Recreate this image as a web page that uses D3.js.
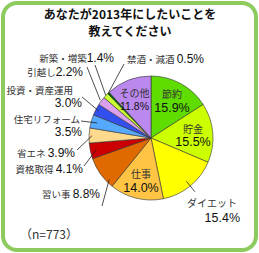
<!DOCTYPE html>
<html>
<head>
<meta charset="utf-8">
<script src="https://cdn.jsdelivr.net/npm/d3@7"></script>
<style>
  body { margin: 0; background: #fff; }
  svg { display: block; }
</style>
</head>
<body>
<svg id="chart"></svg>
<script>
// data
const categories = ["節約", "貯金", "ダイエット", "仕事", "習い事", "資格取得", "省エネ",
  "住宅リフォーム", "投資・資産運用", "引越し", "新築・増築", "禁酒・減酒", "その他"];
const values = [15.9, 15.5, 15.4, 14.0, 8.8, 4.1, 3.9, 3.5, 3.0, 2.2, 1.4, 0.5, 11.8];
const colors = ["#5fdc00", "#ccff00", "#ffff00", "#ffc444", "#e06a00", "#cc0000", "#ffd98c",
  "#55aaff", "#3350ee", "#dda0ee", "#ccff33", "#006600", "#bb88ee"];
const titleLines = ["あなたが2013年にしたいことを", "教えてください"];
const sampleNote = "（n=773）";

// label layout: inside labels (nameY/valY) or outside labels with leader line
const labelLayout = [
  {type: "in", x: 172, nameY: 98, valY: 112, vs: 12.5},
  {type: "in", x: 193, nameY: 133, valY: 146, vs: 12.5},
  {type: "in", x: 212, nameY: 207, valY: 222, vs: 12.5, valX: 240, valAnchor: "end", line: {t: 0.5, k: 0.9, k2: 1.12}},
  {type: "in", x: 141, nameY: 178, valY: 192, vs: 12.5},
  {type: "out", x: 100, y: 198, gap: " ", line: {t: 0.2, k: 0.95, x2: 102, y2: 206}},
  {type: "out", x: 83, y: 173, gap: " ", line: {t: 0.5, k: 0.9, x2: 84, y2: 166}},
  {type: "out", x: 75, y: 157, gap: " ", line: {t: 0.5, k: 0.95, x2: 77, y2: 150}},
  {type: "out2", x: 80, y: 123, valX: 82, valY: 136, line: {t: 0.5, k: 0.9, x2: 81, y2: 121}},
  {type: "out2", x: 73, y: 94, valX: 82, valY: 107, line: {t: 0.5, k: 0.95, x2: 82, y2: 97}},
  {type: "out", x: 83, y: 76, gap: "", line: {t: 0.5, k: 1.02, x2: 87, y2: 67}},
  {type: "out", x: 114, y: 62, gap: "", line: {t: 0.5, k: 1.0, x2: 95, y2: 65}},
  {type: "outL", x: 127, y: 63, gap: " ", line: {t: 0.5, k: 1.0, x2: 124, y2: 64}},
  {type: "in", x: 134.5, nameY: 97, valY: 110, vs: 10.5}
];

const W = 259, H = 253;
const CX = 151, CY = 138, R = 62;
const JP = "'Noto Sans CJK JP', sans-serif";
const NUM = "'Liberation Sans', Arial, sans-serif";

const svg = d3.select("#chart").attr("width", W).attr("height", H);

svg.append("rect")
  .attr("x", 3).attr("y", 3)
  .attr("width", W - 6).attr("height", H - 6)
  .attr("rx", 14).attr("ry", 14)
  .attr("fill", "#fff")
  .attr("stroke", "#8dcb5e")
  .attr("stroke-width", 4);

svg.selectAll(".title")
  .data(titleLines)
  .enter()
  .append("text")
  .attr("x", 130)
  .attr("y", (d, i) => 19 + i * 17)
  .attr("text-anchor", "middle")
  .attr("font-family", JP)
  .attr("font-weight", "bold")
  .attr("font-size", "12px")
  .attr("fill", "#111")
  .text(d => d);

const data = categories.map((c, i) => ({name: c, value: values[i], color: colors[i], layout: labelLayout[i]}));

const pie = d3.pie().sort(null).value(d => d.value);
const arcs = pie(data);
const arc = d3.arc().innerRadius(0).outerRadius(R);

const g = svg.append("g").attr("transform", `translate(${CX},${CY})`);

g.selectAll("path")
  .data(arcs)
  .enter()
  .append("path")
  .attr("d", arc)
  .attr("fill", d => d.data.color)
  .attr("stroke", "#333")
  .attr("stroke-width", 0.6);

// point on the pie, relative to the svg
function piePoint(a, t, k) {
  const ang = a.startAngle + (a.endAngle - a.startAngle) * t;
  return [CX + Math.sin(ang) * R * k, CY - Math.cos(ang) * R * k];
}

// leader lines
arcs.forEach(a => {
  const L = a.data.layout.line;
  if (!L) return;
  const p1 = piePoint(a, L.t, L.k);
  const p2 = L.k2 ? piePoint(a, L.t, L.k2) : [L.x2, L.y2];
  svg.append("line")
    .attr("x1", p1[0]).attr("y1", p1[1])
    .attr("x2", p2[0]).attr("y2", p2[1])
    .attr("stroke", "#222")
    .attr("stroke-width", 0.8);
});

const pct = v => v.toFixed(1) + "%";

arcs.forEach(a => {
  const d = a.data, L = d.layout;
  if (L.type === "in") {
    svg.append("text")
      .attr("x", L.x).attr("y", L.nameY)
      .attr("text-anchor", "middle")
      .attr("font-family", JP).attr("font-size", "10px")
      .attr("fill", "#333")
      .text(d.name);
    svg.append("text")
      .attr("x", L.valX || L.x).attr("y", L.valY)
      .attr("text-anchor", L.valAnchor || "middle")
      .attr("font-family", NUM).attr("font-size", L.vs + "px")
      .attr("fill", "#111")
      .text(pct(d.value));
  } else if (L.type === "out2") {
    svg.append("text")
      .attr("x", L.x).attr("y", L.y)
      .attr("text-anchor", "end")
      .attr("font-family", JP).attr("font-size", "9.5px")
      .attr("fill", "#333")
      .text(d.name);
    svg.append("text")
      .attr("x", L.valX).attr("y", L.valY)
      .attr("text-anchor", "end")
      .attr("font-family", NUM).attr("font-size", "12px")
      .attr("fill", "#111")
      .text(pct(d.value));
  } else {
    const t = svg.append("text")
      .attr("x", L.x).attr("y", L.y)
      .attr("text-anchor", L.type === "outL" ? "start" : "end")
      .attr("fill", "#111");
    t.append("tspan")
      .attr("font-family", JP).attr("font-size", "9.5px").attr("fill", "#333")
      .text(d.name + L.gap);
    t.append("tspan")
      .attr("font-family", NUM).attr("font-size", "12px")
      .text(pct(d.value));
  }
});

svg.append("text")
  .attr("x", 20).attr("y", 239)
  .attr("font-family", JP).attr("font-size", "12px")
  .attr("fill", "#333")
  .text(sampleNote);
</script>
</body>
</html>
